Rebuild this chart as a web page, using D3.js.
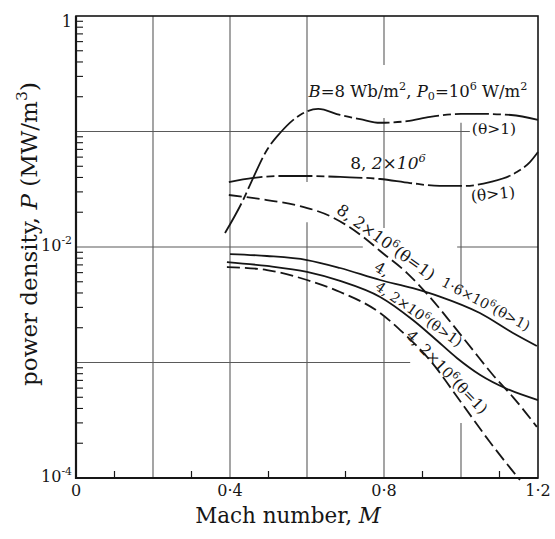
<!DOCTYPE html>
<html>
<head>
<meta charset="utf-8">
<script src="https://cdn.jsdelivr.net/npm/d3@7"></script>
<style>
body { margin: 0; background: white; }
svg { display: block; }
</style>
</head>
<body>
<svg id="chart"></svg>
<script>
var WIDTH = 555,
    HEIGHT = 539,
    PLOT = {left: 76, right: 538, top: 16, bottom: 478},
    LINE_COLOR = "#161616",
    GRID_COLOR = "#5a5a5a",
    FONT = "'DejaVu Serif', 'Liberation Serif', serif";

// axis ticks
var xMajor = [0, 0.4, 0.8, 1.2],
    xMajorLabels = ["0", "0·4", "0·8", "1·2"],
    xMinor = [0.1, 0.3, 0.5, 0.7, 0.9, 1.1],
    yDecades = [1e-4, 1e-3, 1e-2, 1e-1],
    yLabels = [1e-4, 1e-2, 1];

// grid pieces [value, from, to] (the printed grid is broken where text sits)
var vGrid = [[0.2, 1e-4, 1], [0.4, 1e-4, 1],
             [0.6, 0.0365, 1], [0.6, 1e-4, 0.0164],
             [0.8, 0.376, 1], [0.8, 0.0146, 0.131], [0.8, 1e-4, 0.00248],
             [1.0, 0.00424, 0.119], [1.0, 1e-4, 0.0003]];
var hGrid = [[0.1, 0, 1.023], [0.01, 0, 0.745], [0.01, 0.99, 1.2], [0.001, 0, 0.868]];

// B=8, P0=10^6 (theta>1)
var machA  = [0.387, 0.434, 0.46, 0.496, 0.53, 0.582, 0.629, 0.686, 0.738, 0.79, 0.86, 0.92, 1.0, 1.06, 1.13, 1.2],
    powerA = [0.0132, 0.0255, 0.0395, 0.0692, 0.097, 0.139, 0.157, 0.139, 0.128, 0.119, 0.123, 0.134, 0.142, 0.142, 0.139, 0.126];
// 8, 2x10^6 (theta>1)
var machB  = [0.397, 0.46, 0.53, 0.6, 0.686, 0.79, 0.868, 0.945, 1.01, 1.075, 1.145, 1.179, 1.2],
    powerB = [0.0365, 0.0396, 0.0412, 0.0412, 0.0404, 0.0388, 0.0358, 0.0338, 0.0338, 0.0365, 0.0446, 0.0544, 0.0665];
// 8, 2x10^6 (theta=1)
var machC  = [0.397, 0.496, 0.582, 0.66, 0.699, 0.756, 0.79, 0.86, 0.919, 0.979, 1.031, 1.083, 1.135, 1.197],
    powerC = [0.0282, 0.0255, 0.0226, 0.0185, 0.0157, 0.0115, 0.00923, 0.00595, 0.00369, 0.00211, 0.00128, 0.00078, 0.000502, 0.000277];
// 4, 1.6x10^6 (theta>1)
var machD  = [0.4, 0.496, 0.6, 0.686, 0.79, 0.875, 0.945, 1.049, 1.135, 1.197],
    powerD = [0.00869, 0.00836, 0.00771, 0.00658, 0.00518, 0.0044, 0.00372, 0.00268, 0.0018, 0.00139];
// 4, 2x10^6 (theta>1)
var machE  = [0.392, 0.496, 0.6, 0.686, 0.79, 0.875, 0.93, 0.99, 1.05, 1.12, 1.2],
    powerE = [0.00741, 0.00685, 0.00608, 0.00508, 0.00369, 0.00233, 0.00163, 0.00109, 0.00078, 0.00059, 0.000473];
// 4, 2x10^6 (theta=1)
var machF  = [0.392, 0.496, 0.6, 0.686, 0.79, 0.842, 0.919, 1.005, 1.075, 1.153],
    powerF = [0.00671, 0.00632, 0.00518, 0.00408, 0.00268, 0.00191, 0.00105, 0.000429, 0.000205, 0.0000961];

var x = d3.scaleLinear()
    .domain([0, 1.2])
    .range([PLOT.left, PLOT.right]);
var y = d3.scaleLog()
    .domain([1e-4, 1])
    .range([PLOT.bottom, PLOT.top]);

var DASHDOT = "34,4,8,4",
    DASHED = "13,5";

var series = [
    {m: machA, p: powerA, dash: DASHDOT},
    {m: machB, p: powerB, dash: DASHDOT},
    {m: machC, p: powerC, dash: DASHED},
    {m: machD, p: powerD, dash: null},
    {m: machE, p: powerE, dash: null},
    {m: machF, p: powerF, dash: DASHED}
];

// text with super/subscripts, parts = [{t, sup, sub, it}]
function richText(sel, parts, size) {
    var shift = 0;
    parts.forEach(function(p) {
        var ts = sel.append("tspan").text(p.t);
        var target = p.sup ? -size * 0.42 : (p.sub ? size * 0.22 : 0);
        if (target !== shift) ts.attr("dy", target - shift);
        shift = target;
        if (p.sup || p.sub) ts.style("font-size", (size * 0.68) + "px");
        if (p.it) ts.style("font-style", "italic");
    });
    return sel;
}

function label(svg, cx, cy, angle, size, parts) {
    var t = svg.append("text")
        .attr("transform", "translate(" + cx + "," + cy + ") rotate(" + angle + ")")
        .attr("dy", "0.35em")
        .style("font-family", FONT)
        .style("font-size", size + "px")
        .style("fill", LINE_COLOR)
        .style("text-anchor", "middle");
    return richText(t, parts, size);
}

function drawChart() {
    var svg = d3.select("#chart")
        .attr("width", WIDTH)
        .attr("height", HEIGHT)
        .style("background", "white");

    // grid
    var grid = svg.append("g").attr("id", "grid");
    vGrid.forEach(function(g) {
        grid.append("line")
            .attr("x1", x(g[0])).attr("x2", x(g[0]))
            .attr("y1", y(g[1])).attr("y2", y(g[2]))
            .style("stroke", GRID_COLOR)
            .style("stroke-width", 1.1);
    });
    hGrid.forEach(function(g) {
        grid.append("line")
            .attr("x1", x(g[1])).attr("x2", x(g[2]))
            .attr("y1", y(g[0])).attr("y2", y(g[0]))
            .style("stroke", GRID_COLOR)
            .style("stroke-width", 1.1);
    });

    // minor ticks, pointing inward
    var ticks = svg.append("g").attr("id", "ticks");
    xMinor.forEach(function(v) {
        ticks.append("line")
            .attr("x1", x(v)).attr("x2", x(v))
            .attr("y1", PLOT.bottom).attr("y2", PLOT.bottom - 7)
            .style("stroke", LINE_COLOR)
            .style("stroke-width", 1.2);
    });
    yDecades.forEach(function(d) {
        for (var k = 2; k <= 9; k++) {
            ticks.append("line")
                .attr("x1", PLOT.left).attr("x2", PLOT.left + 7)
                .attr("y1", y(d * k)).attr("y2", y(d * k))
                .style("stroke", LINE_COLOR)
                .style("stroke-width", 1.1);
        }
    });

    // frame
    svg.append("rect")
        .attr("x", PLOT.left)
        .attr("y", PLOT.top)
        .attr("width", PLOT.right - PLOT.left)
        .attr("height", PLOT.bottom - PLOT.top)
        .style("fill", "none")
        .style("stroke", LINE_COLOR)
        .style("stroke-width", 1.6);
    svg.append("path")
        .attr("d", "M" + PLOT.left + "," + PLOT.top + "V" + PLOT.bottom + "H" + PLOT.right)
        .style("fill", "none")
        .style("stroke", LINE_COLOR)
        .style("stroke-width", 2.2);

    // curves
    var line = d3.line()
        .x(function(d) { return x(d[0]); })
        .y(function(d) { return y(d[1]); })
        .curve(d3.curveMonotoneX);
    series.forEach(function(s) {
        svg.append("path")
            .datum(d3.zip(s.m, s.p))
            .attr("d", line)
            .style("fill", "none")
            .style("stroke", LINE_COLOR)
            .style("stroke-width", 1.8)
            .style("stroke-dasharray", s.dash);
    });

    // tick labels
    xMajor.forEach(function(v, i) {
        svg.append("text")
            .attr("x", x(v))
            .attr("y", 496)
            .style("font-family", FONT)
            .style("font-size", "16px")
            .style("fill", LINE_COLOR)
            .style("text-anchor", "middle")
            .text(xMajorLabels[i]);
    });
    yLabels.forEach(function(v) {
        var t = svg.append("text")
            .attr("x", 72)
            .attr("y", y(v) + (v === 1 ? 11 : 4))
            .style("font-family", FONT)
            .style("font-size", "16px")
            .style("fill", LINE_COLOR)
            .style("text-anchor", "end");
        if (v === 1) t.text("1");
        else richText(t, [{t: "10"}, {t: "-" + Math.round(-Math.log10(v)), sup: true}], 16);
    });

    // axis titles
    var xt = svg.append("text")
        .attr("x", 288)
        .attr("y", 523)
        .style("font-family", FONT)
        .style("font-size", "21.5px")
        .style("fill", LINE_COLOR)
        .style("text-anchor", "middle");
    richText(xt, [{t: "Mach number, "}, {t: "M", it: true}], 21.5);

    var yt = svg.append("text")
        .attr("transform", "translate(37,234) rotate(-90)")
        .style("font-family", FONT)
        .style("font-size", "23px")
        .style("fill", LINE_COLOR)
        .style("text-anchor", "middle");
    richText(yt, [{t: "power density, "}, {t: "P", it: true}, {t: " (MW/m"}, {t: "3", sup: true}, {t: ")"}], 23);

    // curve annotations
    label(svg, 418, 91, 0, 16.5, [{t: "B", it: true}, {t: "=8 Wb/m"}, {t: "2", sup: true}, {t: ", "},
        {t: "P", it: true}, {t: "0", sub: true}, {t: "=10"}, {t: "6", sup: true}, {t: " W/m"}, {t: "2", sup: true}]);
    label(svg, 494, 129, 0, 15.5, [{t: "(θ>1)"}]);
    label(svg, 388, 163, 0, 17, [{t: "8,  "}, {t: "2×10", it: true}, {t: "6", sup: true, it: true}]);
    label(svg, 493, 194, -6, 15.5, [{t: "(θ>1)"}]);
    label(svg, 386, 242, 36, 16, [{t: "8,  2×10"}, {t: "6", sup: true}, {t: "(θ=1)"}]);
    label(svg, 382, 269, 30, 15, [{t: "4,"}]);
    label(svg, 486, 304, 28, 14, [{t: "1·6×10"}, {t: "6", sup: true}, {t: "(θ>1)"}]);
    label(svg, 419, 314, 35, 14, [{t: "4, 2×10"}, {t: "6", sup: true}, {t: "(θ>1)"}]);
    label(svg, 447, 372, 46, 15, [{t: "4, 2×10"}, {t: "6", sup: true}, {t: "(θ=1)"}]);
}

drawChart();
</script>
</body>
</html>
